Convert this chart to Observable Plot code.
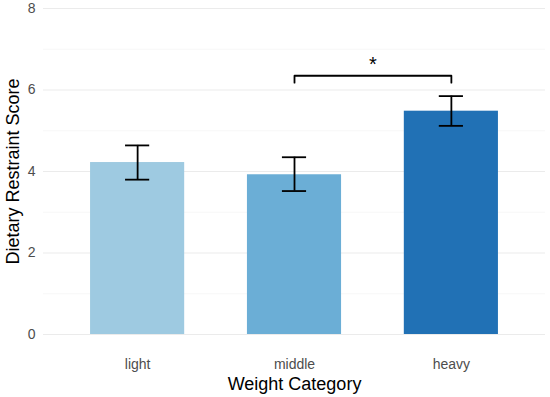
<!DOCTYPE html>
<html><head><meta charset="utf-8">
<script src="https://cdn.jsdelivr.net/npm/d3@7"></script>
<script src="https://cdn.jsdelivr.net/npm/@observablehq/plot@0.6"></script>
<style>
body{margin:0;background:#fff;}
svg{font-family:"Liberation Sans",Arial,sans-serif;}
[aria-label="x-axis label"] text,[aria-label="y-axis label"] text{font-size:18px;fill:#000;}
</style>
</head><body>
<div id="chart"></div>
<script>
const categories = ["light", "middle", "heavy"];
const means = [4.22, 3.92, 5.48];
const lower = [3.80, 3.52, 5.12];
const upper = [4.64, 4.35, 5.85];
const colors = ["#9ecae1", "#6baed6", "#2171b5"];
const majorTicks = [0, 2, 4, 6, 8];
const minorTicks = [1, 3, 5, 7];
const sigPair = ["middle", "heavy"];
const sigBase = 6.18, sigTop = 6.35, sigLabel = "*", sigLabelY = 6.62;

const barHalf = 0.3, capHalf = 0.077;
const data = categories.map((c, i) => ({i, cat: c, mean: means[i], lo: lower[i], hi: upper[i]}));
const a = categories.indexOf(sigPair[0]), b = categories.indexOf(sigPair[1]);
const bracket = [
  {x: a, y: sigBase}, {x: a, y: sigTop}, {x: b, y: sigTop}, {x: b, y: sigBase}
];
const sigText = [{x: (a + b) / 2, y: sigLabelY, t: sigLabel}];

const chart = Plot.plot({
  width: 550, height: 397,
  marginLeft: 43, marginRight: 5, marginTop: 8, marginBottom: 63,
  style: {fontSize: "14px", color: "#4d4d4d", background: "#fff"},
  x: {domain: [-0.6, categories.length - 0.4], ticks: categories.map((_, i) => i),
      tickFormat: (i) => categories[i], tickSize: 0, tickPadding: 25,
      label: "Weight Category", labelArrow: "none", labelAnchor: "center", labelOffset: 55},
  y: {domain: [0, 8], ticks: majorTicks, tickSize: 0, tickPadding: 8,
      label: "Dietary Restraint Score", labelArrow: "none", labelAnchor: "center", labelOffset: 37},
  color: {domain: categories, range: colors},
  marks: [
    Plot.ruleY(minorTicks, {stroke: "#f2f2f2", strokeWidth: 0.6}),
    Plot.ruleY(majorTicks, {stroke: "#ebebeb", strokeWidth: 1.1}),
    Plot.rectY(data, {x1: (d) => d.i - barHalf, x2: (d) => d.i + barHalf, y: "mean", fill: "cat"}),
    Plot.ruleX(data, {x: "i", y1: "lo", y2: "hi", stroke: "#000", strokeWidth: 1.8}),
    Plot.ruleY(data, {x1: (d) => d.i - capHalf, x2: (d) => d.i + capHalf, y: "hi", stroke: "#000", strokeWidth: 1.8}),
    Plot.ruleY(data, {x1: (d) => d.i - capHalf, x2: (d) => d.i + capHalf, y: "lo", stroke: "#000", strokeWidth: 1.8}),
    Plot.line(bracket, {x: "x", y: "y", stroke: "#000", strokeWidth: 1.8}),
    Plot.text(sigText, {x: "x", y: "y", text: "t", fontSize: 20, fill: "#000"})
  ]
});
document.getElementById("chart").appendChild(chart);
</script>
</body></html>
